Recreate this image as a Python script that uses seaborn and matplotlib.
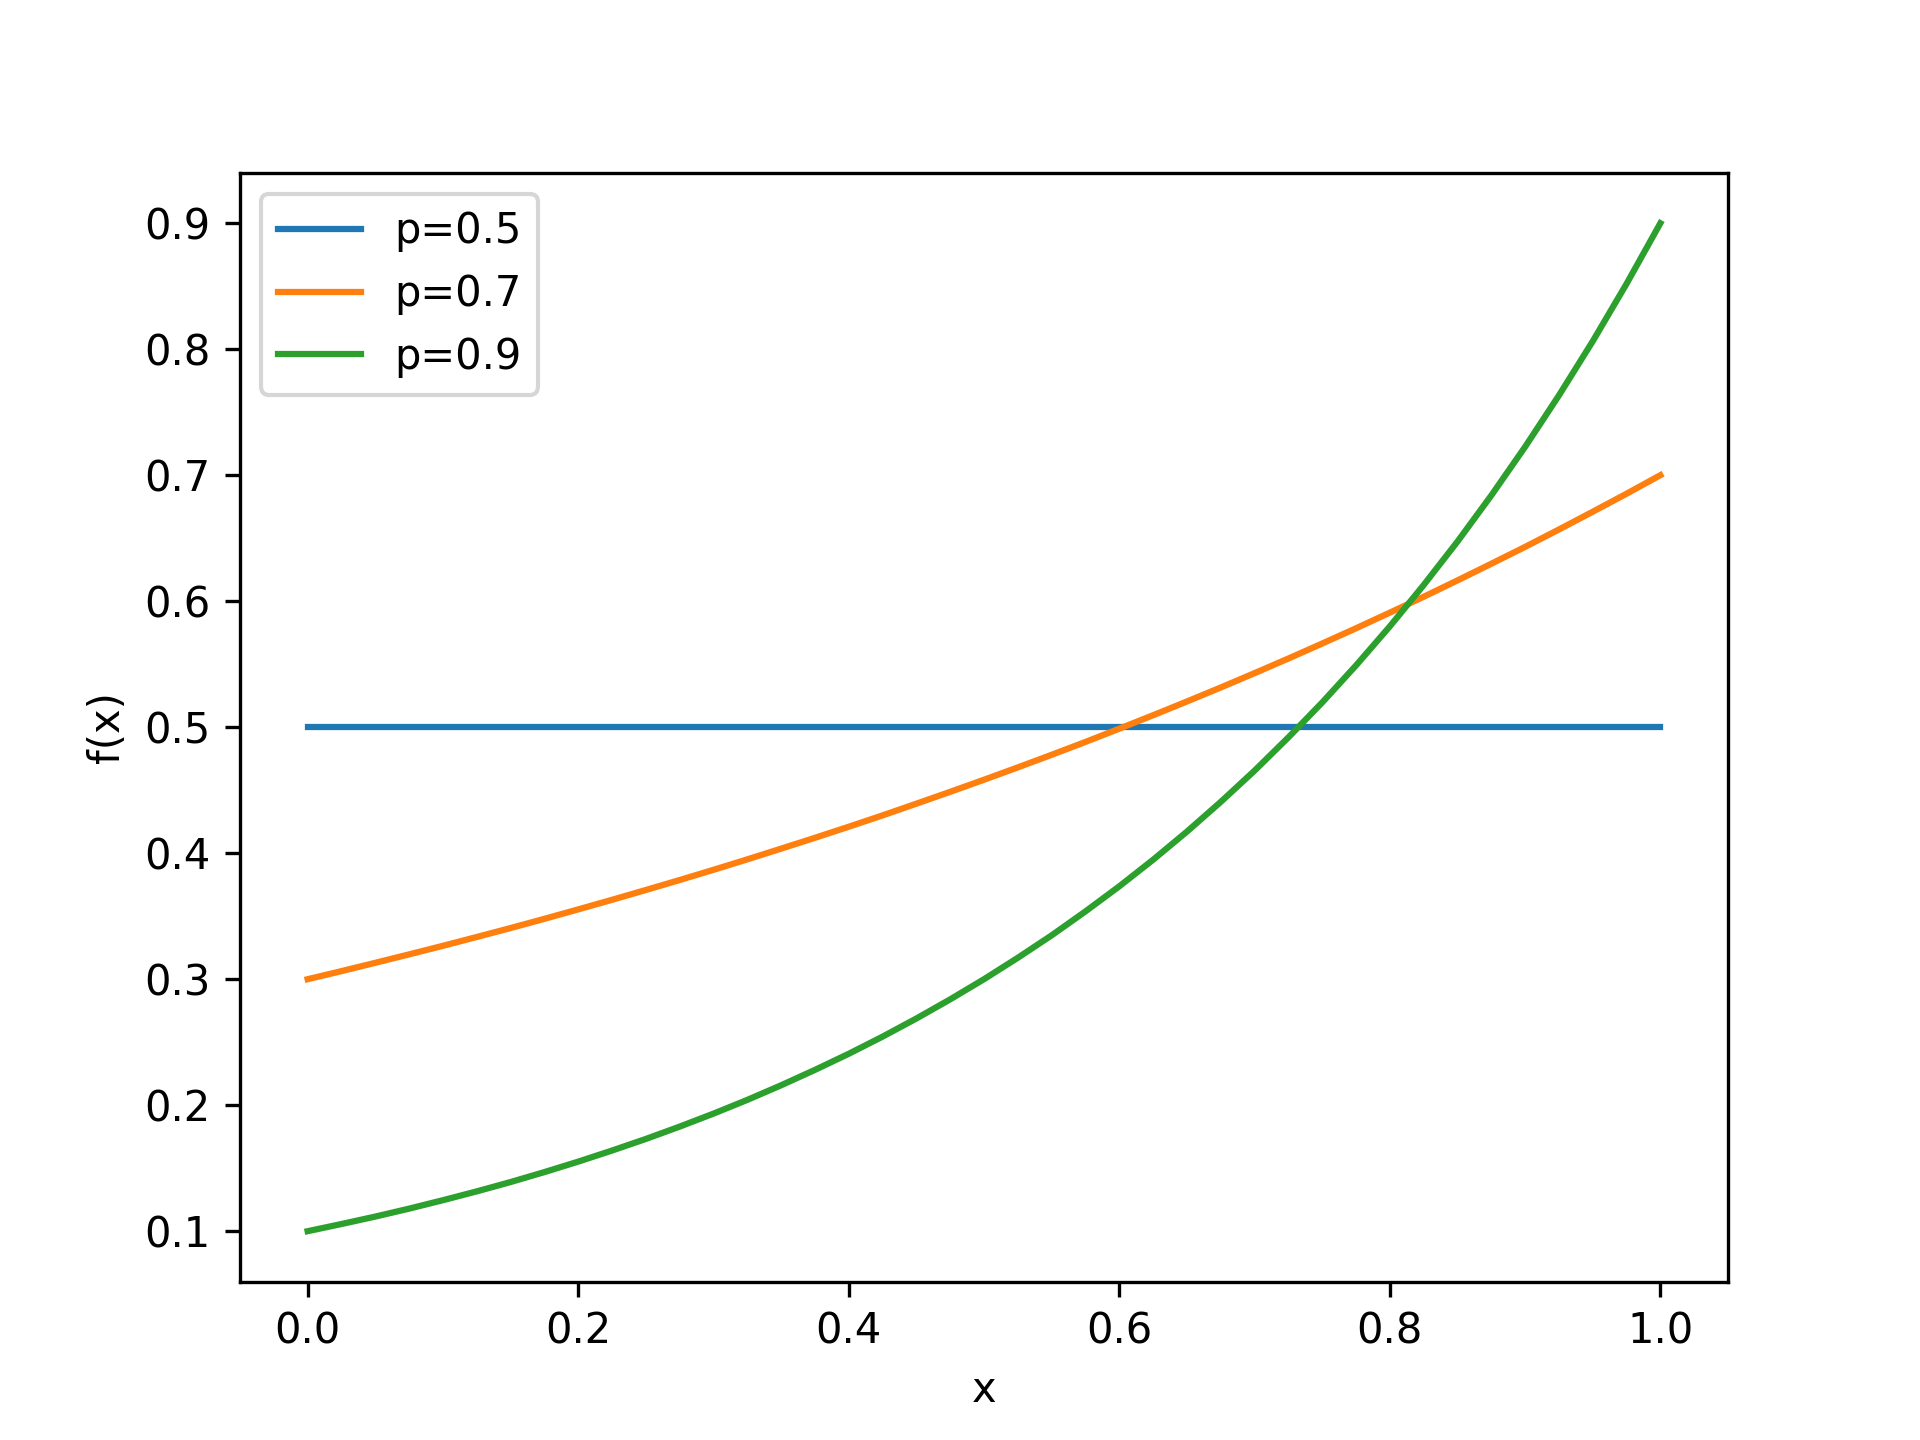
import matplotlib
matplotlib.use("Agg")
import matplotlib.pyplot as plt
import seaborn as sns
import pandas as pd

x_vals = [0.0, 0.025, 0.05, 0.075, 0.1, 0.125, 0.15, 0.175, 0.2, 0.225, 0.25,
          0.275, 0.3, 0.325, 0.35, 0.375, 0.4, 0.425, 0.45, 0.475, 0.5,
          0.525, 0.55, 0.575, 0.6, 0.625, 0.65, 0.675, 0.7, 0.725, 0.75,
          0.775, 0.8, 0.825, 0.85, 0.875, 0.9, 0.925, 0.95, 0.975, 1.0]
p05 = [0.5] * 41
p07 = [0.300, 0.3064, 0.313, 0.3197, 0.3265, 0.3335, 0.3406, 0.3479, 0.3554, 0.3630, 0.3708,
       0.3787, 0.3868, 0.3951, 0.4036, 0.4122, 0.4210, 0.4300, 0.4393, 0.4487, 0.4583,
       0.4681, 0.4781, 0.4883, 0.4988, 0.5095, 0.5204, 0.5315, 0.5429, 0.5545, 0.5664,
       0.5785, 0.5909, 0.6035, 0.6165, 0.6297, 0.6431, 0.6569, 0.6710, 0.6853, 0.700]
p09 = [0.100, 0.1057, 0.1116, 0.1179, 0.1246, 0.1316, 0.1390, 0.1469, 0.1552, 0.1640, 0.1732,
       0.1830, 0.1933, 0.2042, 0.2158, 0.2280, 0.2408, 0.2544, 0.2688, 0.2840, 0.300,
       0.3170, 0.3348, 0.3538, 0.3737, 0.3948, 0.4171, 0.4407, 0.4655, 0.4919, 0.5196,
       0.5490, 0.5800, 0.6128, 0.6473, 0.6839, 0.7225, 0.7633, 0.8063, 0.8519, 0.900]
labels = ["p=0.5", "p=0.7", "p=0.9"]

rows = []
for lab, ys in zip(labels, [p05, p07, p09]):
    for xv, yv in zip(x_vals, ys):
        rows.append({"x": xv, "f(x)": yv, "p": lab})
df = pd.DataFrame(rows)

fig, ax = plt.subplots(figsize=(6.4, 4.8), dpi=300)
sns.lineplot(data=df, x="x", y="f(x)", hue="p", palette=["#1f77b4", "#ff7f0e", "#2ca02c"],
             ax=ax, linewidth=1.5, estimator=None)
ax.legend(loc="upper left", title=None)
ax.set_xlabel("x")
ax.set_ylabel("f(x)")
fig.savefig("out.png", dpi=300)
